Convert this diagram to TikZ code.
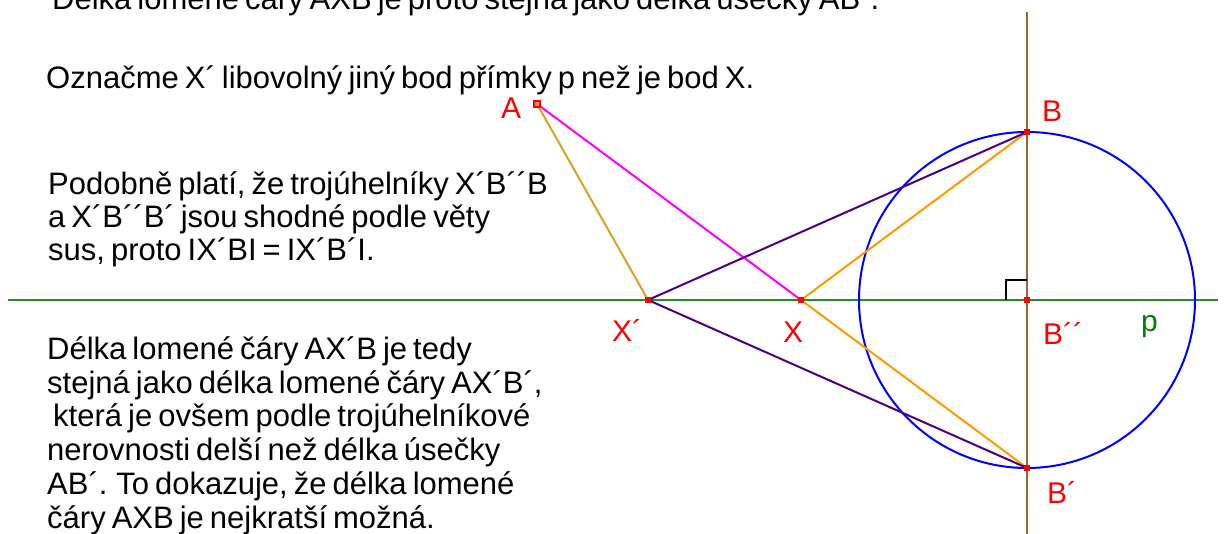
\documentclass[tikz,border=0pt]{standalone}
\usepackage{fontspec}
\setmainfont[WordSpace=0.7]{Liberation Sans}
\newfontfamily\lblfont{Liberation Sans}
\begin{document}
\begin{tikzpicture}[x=1pt,y=1pt,
  txt/.style={anchor=base west, inner sep=0pt, font=\fontsize{31}{34}\selectfont},
  lbl/.style={anchor=base west, inner sep=0pt, text=red, font=\lblfont\fontsize{30}{34}\selectfont},
  seg/.style={line width=2pt, line cap=round},
  ptmark/.style={rectangle, fill=red, minimum size=6pt, inner sep=0pt},
  ptopen/.style={rectangle, draw=red, fill=red!45!white, line width=1.5pt, minimum size=6pt, inner sep=0pt}
]
\definecolor{pgreen}{RGB}{40,140,40}
\definecolor{vbrown}{RGB}{153,102,51}
\definecolor{gold}{RGB}{218,160,40}
\definecolor{orng}{RGB}{255,153,0}
\definecolor{indig}{RGB}{75,0,130}
\definecolor{magn}{RGB}{255,0,255}
\definecolor{lgreen}{RGB}{0,128,0}
\useasboundingbox (0,0) rectangle (1224,534);
\clip (0,0) rectangle (1224,534);

% points
\coordinate (A) at (537,430);
\coordinate (B) at (1027,402);
\coordinate (B1) at (1027,66);
\coordinate (B2) at (1027,234);
\coordinate (X) at (801,234);
\coordinate (X1) at (648,234);
\coordinate (pL) at (8,234);
\coordinate (pR) at (1218,234);
\coordinate (vT) at (1027,522);
\coordinate (vB) at (1027,-2);
\coordinate (r1) at (1006,234);
\coordinate (r2) at (1006,254);
\coordinate (r3) at (1027,254);

% lines
\draw[line width=2pt, pgreen] (pL) -- (pR);
\draw[line width=2pt, vbrown] (vT) -- (vB);
\draw[line width=2pt, blue] (B2) circle (168);
\draw[line width=2pt, black] (r1) -- (r2) -- (r3);

\draw[seg, magn] (A) -- (X);
\draw[seg, gold] (A) -- (X1);
\draw[seg, orng] (X) -- (B);
\draw[seg, orng] (X) -- (B1);
\draw[seg, indig] (X1) -- (B);
\draw[seg, indig] (X1) -- (B1);

% point marks
\node[ptopen] (mA) at (A) {};
\node[ptmark] (mB) at (B) {};
\node[ptmark] (mB1) at (B1) {};
\node[ptmark] (mB2) at (B2) {};
\node[ptmark] (mX) at (X) {};
\node[ptmark] (mX1) at (X1) {};

% labels
\node[lbl] (lA) at (501,415) {A};
\node[lbl] (lB) at (1042,412) {B};
\node[lbl] (lX1) at (612,192) {X´};
\node[lbl] (lX) at (783,191) {X};
\node[lbl] (lB2) at (1043,189) {B´´};
\node[lbl, text=lgreen] (lp) at (1141,202) {p};
\node[lbl] (lB1) at (1047,30) {B´};

% texts
\node[txt] (t0) at (52,524) {Délka lomené čáry AXB je proto stejná jako délka úsečky AB´.};
\node[txt] (t1) at (46,445) {Označme X´ libovolný jiný bod přímky p než je bod X.};
\node[txt] (t2) at (48,339) {Podobně platí, že trojúhelníky X´B´´B};
\node[txt] (t3) at (48,306) {a X´B´´B´ jsou shodné podle věty};
\node[txt] (t4) at (48,273) {sus, proto IX´BI = IX´B´I.};
\node[txt] (t5) at (47,174) {Délka lomené čáry AX´B je tedy};
\node[txt] (t6) at (47,140) {stejná jako délka lomené čáry AX´B´,};
\node[txt] (t7) at (47,107) {\ která je ovšem podle trojúhelníkové};
\node[txt] (t8) at (47,73) {nerovnosti delší než délka úsečky};
\node[txt] (t9) at (47,39) {AB´. To dokazuje, že délka lomené};
\node[txt] (t10) at (47,5) {čáry AXB je nejkratší možná.};
\end{tikzpicture}
\end{document}
